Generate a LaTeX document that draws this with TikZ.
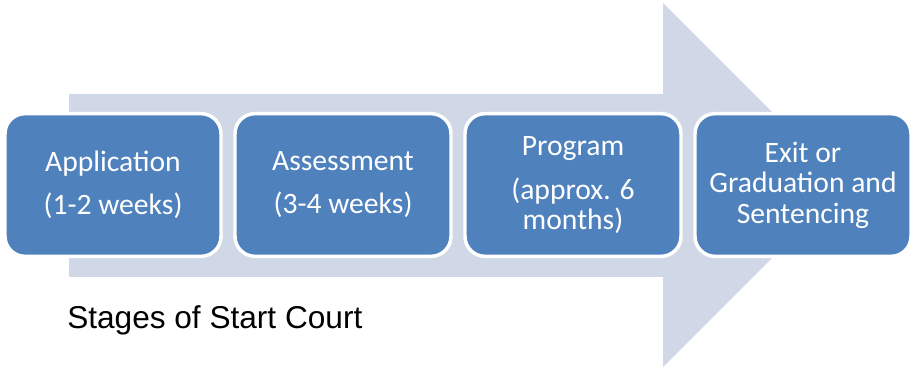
\documentclass[tikz,border=0pt]{standalone}
\usepackage{fontspec}
\setmainfont{Carlito}
\newfontfamily\captionfont{Liberation Sans}
\definecolor{arrowfill}{RGB}{208,216,232}
\definecolor{boxfill}{RGB}{79,129,189}
\begin{document}
\begin{tikzpicture}[x=0.75pt,y=-0.75pt,
  stagebox/.style={rectangle, rounded corners=15pt, fill=boxfill, draw=white,
    line width=2.6pt, minimum width=162pt, minimum height=107pt,
    text=white, align=center, inner sep=0pt,
    font=\fontsize{22.2}{22.8}\selectfont}]
\useasboundingbox (0,0) rectangle (910,370);
\fill[arrowfill] (69,94) -- (663,94) -- (663,3) -- (845,185) -- (663,367)
  -- (663,277) -- (69,277) -- cycle;
\node[stagebox] (s1) at (113,185) {Application\\[9.5pt](1-2 weeks)};
\node[stagebox] (s2) at (343,185) {Assessment\\[9.5pt](3-4 weeks)};
\node[stagebox] (s3) at (573,185) {Program\\[10.5pt](approx. 6\\months)};
\node[stagebox] (s4) at (803,185) {Exit or\\Graduation and\\Sentencing};
\node[anchor=base west, inner sep=0pt, font=\captionfont\fontsize{23.7}{28}\selectfont]
  (cap) at (67,328) {Stages of Start Court};
\end{tikzpicture}
\end{document}
